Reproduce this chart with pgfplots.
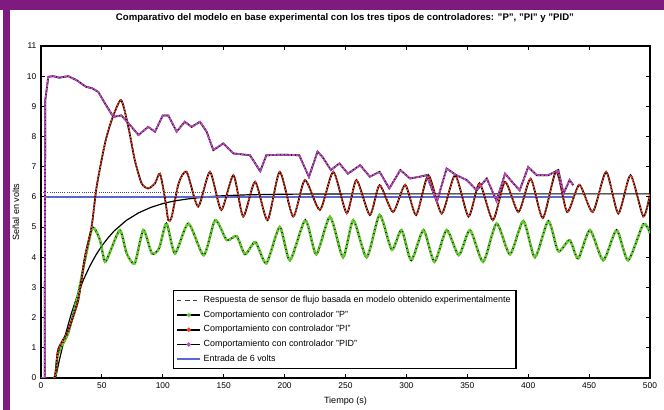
\documentclass[border=0pt]{standalone}
\usepackage{pgfplots}
\pgfplotsset{compat=1.18}
\usepackage{fontspec}
\setmainfont{Liberation Sans}
\definecolor{frame}{HTML}{7E1A80}
\definecolor{pgreen}{HTML}{66CC2E}
\definecolor{pired}{HTML}{FF3C1C}
\definecolor{pidmag}{HTML}{C04AC0}
\definecolor{entblue}{HTML}{5A68D6}
\begin{document}
\begin{tikzpicture}
\useasboundingbox (0,0) rectangle (498pt,307.5pt);
\fill[frame] (0,300pt) rectangle (498pt,307.5pt);
\fill[frame] (2.25pt,0) rectangle (7.5pt,307.5pt);
\node[font=\bfseries\fontsize{7.2}{8}\selectfont] at (258.75pt,294pt)
  {Comparativo del modelo en base experimental con los tres tipos de controladores: "P", "PI" y "PID"};
\begin{axis}[
  at={(30.75pt,24pt)}, anchor=south west,
  scale only axis, width=456.75pt, height=249pt,
  xmin=0, xmax=500, ymin=0, ymax=11,
  xtick={0,50,...,500}, ytick={0,1,...,11},
  xtick pos=both, ytick pos=both,
  tick align=inside, major tick length=3pt,
  tick style={black, line width=0.8pt},
  axis line style={line width=1.1pt},
  /pgf/number format/assume math mode=true,
  tick label style={font=\fontsize{6.3}{7}\selectfont},
  xlabel={Tiempo (s)}, ylabel={Señal en volts},
  label style={font=\fontsize{6.8}{8}\selectfont},
  xlabel style={yshift=1pt},
  ylabel style={yshift=-1pt},
  legend style={at={(0.217,0.265)}, anchor=north west,
    font=\fontsize{6.7}{7.5}\selectfont, draw=black, line width=1pt,
    row sep=0.7pt, inner sep=2pt},
  legend cell align=left,
]
% modelo experimental (respuesta de primer orden)
\addplot[black, line width=0.9pt, forget plot] coordinates {
(0,0) (12,0) (15,0.58) (20,1.43) (25,2.15) (30,2.75) (35,3.27) (40,3.70)
(45,4.07) (50,4.38) (55,4.64) (60,4.87) (70,5.22) (80,5.47) (90,5.65)
(100,5.78) (110,5.87) (120,5.93) (135,6.0) (150,6.04) (170,6.07)
(200,6.09) (250,6.1) (500,6.1)};
\addplot[black!70, densely dotted, line width=0.6pt, forget plot] coordinates {(0,6.14) (140,6.14)};
% entrada de 6 volts
\addplot[entblue, line width=1pt, forget plot] coordinates {(0,0) (3,0) (3,6) (437,6)};
% controlador P
\addplot[black, line width=1.4pt, smooth, tension=0.4, forget plot] coordinates {
(0,0) (11,0) (14,0.8) (22.4,1.5) (30.6,2.8) (36,3.9) (41.5,4.9) (44,4.95)
(48.4,4.57) (52.5,3.85) (56.7,4.18) (64.8,4.9) (70.3,4.13) (77,3.8) (84,4.9)
(91,4.13) (97,4.3) (103,5.12) (110,4.13) (121,5.12) (133.6,4.07) (143,5.23)
(152.5,4.57) (160.6,4.7) (167.5,4.1) (176,4.5) (185,3.8) (196,5.0) (204.4,3.9)
(217,5.23) (226,4.1) (237.3,5.34) (248,4.0) (256.4,5.23) (267.4,4.0) (278,5.4)
(288,4.25) (296,4.9) (304,3.9) (314,4.9) (323,3.85) (333,4.9) (343,4.07)
(352.2,4.9) (363,3.85) (374,5.12) (385,4.1) (396,5.2) (405.5,4.0) (416.5,5.2)
(424.7,4.2) (434,4.57) (441,3.96) (450.7,4.9) (461.6,3.9) (472.6,4.9)
(482,3.9) (494.5,5.1) (500,4.8)};
\addplot[pgreen, line width=1.9pt, smooth, tension=0.4, dash pattern=on 2.5pt off 0.7pt, forget plot] coordinates {
(0,0) (11,0) (14,0.8) (22.4,1.5) (30.6,2.8) (36,3.9) (41.5,4.9) (44,4.95)
(48.4,4.57) (52.5,3.85) (56.7,4.18) (64.8,4.9) (70.3,4.13) (77,3.8) (84,4.9)
(91,4.13) (97,4.3) (103,5.12) (110,4.13) (121,5.12) (133.6,4.07) (143,5.23)
(152.5,4.57) (160.6,4.7) (167.5,4.1) (176,4.5) (185,3.8) (196,5.0) (204.4,3.9)
(217,5.23) (226,4.1) (237.3,5.34) (248,4.0) (256.4,5.23) (267.4,4.0) (278,5.4)
(288,4.25) (296,4.9) (304,3.9) (314,4.9) (323,3.85) (333,4.9) (343,4.07)
(352.2,4.9) (363,3.85) (374,5.12) (385,4.1) (396,5.2) (405.5,4.0) (416.5,5.2)
(424.7,4.2) (434,4.57) (441,3.96) (450.7,4.9) (461.6,3.9) (472.6,4.9)
(482,3.9) (494.5,5.1) (500,4.8)};
% controlador PI
\addplot[black, line width=1.3pt, smooth, tension=0.4, forget plot] coordinates {
(0,0) (11,0) (14,0.93) (22.4,1.59) (30.6,2.58) (36,4.0) (41.5,5.0) (45.7,6.34)
(52.5,7.77) (58,8.54) (65.7,9.21) (71.7,8.32) (77,7.22) (82.6,6.45) (88,6.28)
(93.6,6.45) (97.7,6.77) (102,5.9) (104.5,5.23) (107.3,5.34) (113,6.45)
(119.6,6.83) (129,5.68) (138.7,6.83) (148,5.57) (158,6.72) (166,5.35)
(175.8,6.5) (186,5.23) (196,6.83) (207,5.35) (216.7,6.56) (229,5.57) (240,6.83)
(251,5.46) (259,6.56) (270,5.4) (278,6.39) (289,5.5) (299,6.4) (308,5.4)
(318,6.72) (329,5.45) (340,6.72) (351,5.35) (360,6.45) (371,5.23) (381,6.5)
(392,5.5) (402,6.6) (412,5.3) (423,6.85) (432,5.5) (442,6.4) (453,5.5)
(464,6.83) (474,5.45) (484,6.72) (494.5,5.35) (500,6.1)};
\addplot[pired, line width=1.1pt, smooth, tension=0.4, dash pattern=on 1.4pt off 1pt, forget plot] coordinates {
(0,0) (11,0) (14,0.93) (22.4,1.59) (30.6,2.58) (36,4.0) (41.5,5.0) (45.7,6.34)
(52.5,7.77) (58,8.54) (65.7,9.21) (71.7,8.32) (77,7.22) (82.6,6.45) (88,6.28)
(93.6,6.45) (97.7,6.77) (102,5.9) (104.5,5.23) (107.3,5.34) (113,6.45)
(119.6,6.83) (129,5.68) (138.7,6.83) (148,5.57) (158,6.72) (166,5.35)
(175.8,6.5) (186,5.23) (196,6.83) (207,5.35) (216.7,6.56) (229,5.57) (240,6.83)
(251,5.46) (259,6.56) (270,5.4) (278,6.39) (289,5.5) (299,6.4) (308,5.4)
(318,6.72) (329,5.45) (340,6.72) (351,5.35) (360,6.45) (371,5.23) (381,6.5)
(392,5.5) (402,6.6) (412,5.3) (423,6.85) (432,5.5) (442,6.4) (453,5.5)
(464,6.83) (474,5.45) (484,6.72) (494.5,5.35) (500,6.1)};
% controlador PID
\addplot[black, line width=1.3pt, forget plot] coordinates {
(0,0) (3,0) (3.5,9.2) (6,9.98) (10,10.0) (15,9.95) (22.4,10.0) (29.1,9.87)
(36.9,9.65) (42,9.6) (47,9.48) (52.5,9.1) (59.4,8.65) (66,8.7) (74.4,8.32)
(80,8.05) (88,8.32) (93.6,8.16) (100,8.7) (104.5,8.7) (111.4,8.16) (118,8.49)
(123.7,8.32) (130.5,8.49) (136,8.16) (141.5,7.55) (149.7,7.77) (158,7.44)
(171.6,7.38) (180,6.85) (185,7.38) (198,7.4) (212,7.38) (220,6.66) (227,7.5)
(231,7.33) (238,6.89) (245,7.11) (252,6.77) (262,7.05) (270,6.67) (278,6.83)
(286,6.28) (295,6.89) (303,6.61) (311,6.67) (316.6,6.72) (325,5.84) (333,6.94)
(341,6.72) (349.5,6.56) (357.7,6.22) (366,6.61) (374,5.87) (381,6.77)
(388,6.44) (393,6.22) (400,6.99) (407,6.72) (416.5,6.72) (424.7,6.89)
(429,6.11) (434,6.56) (437,6.39)};
\addplot[pidmag, line width=1.3pt, dash pattern=on 2.2pt off 0.6pt, forget plot] coordinates {
(0,0) (3,0) (3.5,9.2) (6,9.98) (10,10.0) (15,9.95) (22.4,10.0) (29.1,9.87)
(36.9,9.65) (42,9.6) (47,9.48) (52.5,9.1) (59.4,8.65) (66,8.7) (74.4,8.32)
(80,8.05) (88,8.32) (93.6,8.16) (100,8.7) (104.5,8.7) (111.4,8.16) (118,8.49)
(123.7,8.32) (130.5,8.49) (136,8.16) (141.5,7.55) (149.7,7.77) (158,7.44)
(171.6,7.38) (180,6.85) (185,7.38) (198,7.4) (212,7.38) (220,6.66) (227,7.5)
(231,7.33) (238,6.89) (245,7.11) (252,6.77) (262,7.05) (270,6.67) (278,6.83)
(286,6.28) (295,6.89) (303,6.61) (311,6.67) (316.6,6.72) (325,5.84) (333,6.94)
(341,6.72) (349.5,6.56) (357.7,6.22) (366,6.61) (374,5.87) (381,6.77)
(388,6.44) (393,6.22) (400,6.99) (407,6.72) (416.5,6.72) (424.7,6.89)
(429,6.11) (434,6.56) (437,6.39)};
% leyenda
\addlegendimage{black!75, dashed, line width=0.6pt}
\addlegendentry{Respuesta de sensor de flujo basada en modelo obtenido experimentalmente}
\addlegendimage{black, line width=1.3pt, mark=*, mark size=0.9pt, mark options={draw=pgreen, fill=pgreen}}
\addlegendentry{Comportamiento con controlador "P"}
\addlegendimage{black, line width=1.3pt, mark=*, mark size=0.9pt, mark options={draw=pired, fill=pired}}
\addlegendentry{Comportamiento con controlador "PI"}
\addlegendimage{black, line width=1.3pt, mark=*, mark size=0.9pt, mark options={draw=pidmag, fill=pidmag}}
\addlegendentry{Comportamiento con controlador "PID"}
\addlegendimage{legend image code/.code={\draw[draw=entblue, line width=1.3pt] (0cm,0cm) -- (0.6cm,0cm);}}
\addlegendentry{Entrada de 6 volts}
\end{axis}
\end{tikzpicture}
\end{document}
